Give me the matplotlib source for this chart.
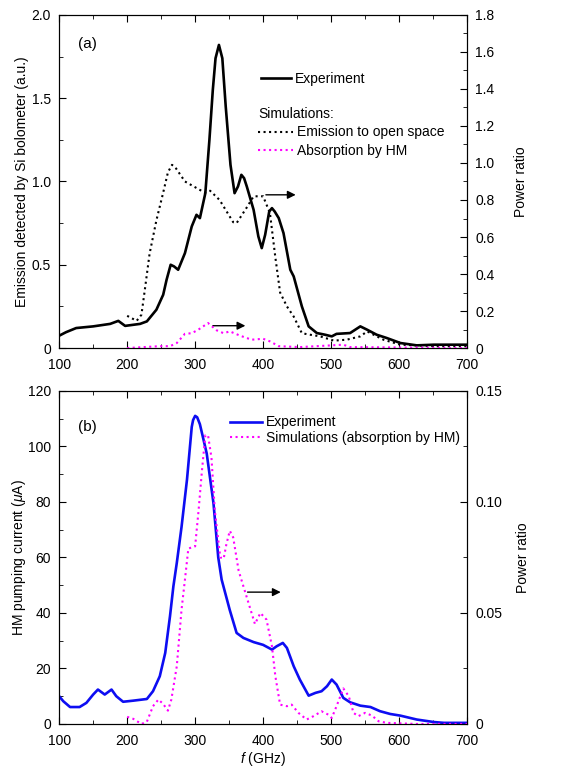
#!/usr/bin/env python3
import matplotlib
matplotlib.use("Agg")
import matplotlib.pyplot as plt
from matplotlib.ticker import MultipleLocator, FuncFormatter

plt.rcParams['font.family'] = ['Liberation Sans', 'DejaVu Sans']
plt.rcParams['font.size'] = 10
plt.rcParams['mathtext.fontset'] = 'custom'
plt.rcParams['mathtext.it'] = 'Liberation Sans:italic'
plt.rcParams['mathtext.rm'] = 'Liberation Sans'

### (a) experiment: bolometer signal (left axis)
a_exp_f = [100, 110, 125, 150, 175, 187, 197, 219, 229, 243, 253, 258, 264, 269,
           275, 285, 295, 302, 307, 315, 321, 326, 330, 335, 340, 345, 352, 358,
           363, 368, 372, 376, 386, 393, 398, 403, 409, 413, 417, 423, 430, 440,
           445, 457, 467, 479, 491, 501, 508, 528, 543, 553, 567, 582, 602, 626,
           651, 700]
a_exp_v = [0.074, 0.095, 0.12, 0.13, 0.145, 0.163, 0.133, 0.145, 0.16, 0.23, 0.32,
           0.41, 0.50, 0.49, 0.47, 0.57, 0.73, 0.80, 0.78, 0.93, 1.25, 1.55, 1.74,
           1.82, 1.74, 1.45, 1.10, 0.93, 0.97, 1.04, 1.02, 0.97, 0.83, 0.67, 0.60,
           0.68, 0.82, 0.84, 0.82, 0.78, 0.69, 0.47, 0.43, 0.25, 0.13, 0.09, 0.08,
           0.07, 0.085, 0.09, 0.13, 0.11, 0.08, 0.06, 0.03, 0.016, 0.02, 0.02]

### (a) simulation: emission to open space (right axis)
a_open_f = [200, 214, 221, 226, 233, 243, 253, 260, 266, 272, 285, 314, 322, 336,
            356, 361, 376, 386, 400, 410, 418, 425, 435, 445, 457, 469, 484, 504,
            523, 543, 553, 577, 602, 651, 700]
a_open_v = [0.174, 0.147, 0.18, 0.315, 0.51, 0.69, 0.84, 0.95, 0.99, 0.97, 0.90,
            0.84, 0.85, 0.80, 0.68, 0.675, 0.76, 0.82, 0.82, 0.73, 0.49, 0.30,
            0.225, 0.17, 0.08, 0.072, 0.063, 0.04, 0.045, 0.063, 0.09, 0.045,
            0.018, 0.01, 0.01]

### (a) simulation: absorption by HM (right axis)
a_hm_f = [200, 248, 263, 273, 285, 295, 305, 319, 332, 342, 351, 366, 383, 400,
          410, 423, 454, 518, 528, 700]
a_hm_v = [0.0, 0.01, 0.01, 0.027, 0.077, 0.08, 0.10, 0.135, 0.095, 0.08, 0.09,
          0.067, 0.045, 0.05, 0.036, 0.01, 0.005, 0.018, 0.005, 0.0]

### (b) experiment: HM pumping current (left axis)
b_exp_f = [100, 106, 116, 130, 140, 150, 157, 167, 177, 184, 194, 209, 229, 238,
           248, 256, 263, 268, 273, 280, 288, 295, 297, 300, 303, 307, 317,
           327, 334, 339, 351, 361, 371, 386, 400, 413, 420, 429, 435, 445, 454,
           467, 477, 486, 494, 501, 508, 518, 528, 543, 558, 572, 587, 602, 626,
           651, 666, 700]
b_exp_v = [10, 8.2, 6.1, 6.1, 7.6, 10.6, 12.4, 10.6, 12.4, 10, 8, 8.4, 9, 11.8,
           17.2, 25.6, 38.8, 49.6, 58, 71, 88, 107, 109.5, 111, 110.5, 108,
           97.5, 79.5, 60, 52, 41, 32.8, 31, 29.5, 28.5, 26.8, 28, 29.2, 27.4, 20.8,
           16, 10.2, 11.2, 11.8, 13.6, 16, 14.2, 9.4, 7.8, 6.6, 6.1, 4.6, 3.6, 3,
           1.6, 0.7, 0.4, 0.4]

### (b) simulation: absorption by HM (right axis)
b_hm_f = [200, 209, 221, 229, 238, 246, 253, 260, 265, 273, 280, 285, 290, 300,
          305, 310, 315, 319, 324, 329, 337, 342, 346, 351, 356, 364, 371, 381,
          388, 396, 405, 413, 418, 425, 435, 442, 452, 464, 474, 486, 496, 501,
          508, 518, 526, 533, 540, 550, 560, 570, 582, 626, 700]
b_hm_v = [0.0032, 0.0023, 0.0, 0.001, 0.008, 0.011, 0.009, 0.006, 0.011, 0.026,
          0.0515, 0.065, 0.079, 0.080, 0.096, 0.114, 0.130, 0.130, 0.120, 0.096,
          0.075, 0.0745, 0.081, 0.087, 0.084, 0.069, 0.062, 0.052, 0.045, 0.050,
          0.047, 0.035, 0.0215, 0.0087, 0.008, 0.0087, 0.005, 0.002, 0.0035,
          0.0057, 0.0042, 0.0027, 0.008, 0.016, 0.0125, 0.005, 0.0035, 0.005,
          0.0038, 0.0012, 0.0005, 0.0, 0.0]

myblack = (0.0, 0.0, 0.0)
myblue = (0.05, 0.05, 0.95)
mymagenta = (1.0, 0.0, 1.0)


def zero_fmt(fmt):
    return FuncFormatter(lambda v, p: "0" if abs(v) < 1e-9 else fmt.format(v))


def style_ax(ax, right=False):
    ax.tick_params(which="both", direction="in", top=not right, bottom=not right,
                   left=not right, right=right, labelsize=10)
    ax.tick_params(which="major", length=5)
    ax.tick_params(which="minor", length=3)
    ax.tick_params(axis="x", pad=7)
    ax.tick_params(axis="y", pad=6)
    for s in ax.spines.values():
        s.set_linewidth(0.8)


fig = plt.figure(figsize=(5.86, 7.71), dpi=100)

### Panel (a)
ax1 = fig.add_axes([0.101, 0.5486, 0.696, 0.432])
ax1r = ax1.twinx()
ln_exp, = ax1.plot(a_exp_f, a_exp_v, color=myblack, linewidth=1.9)
ln_open, = ax1r.plot(a_open_f, a_open_v, color=myblack, linestyle=':', linewidth=1.5)
ln_hm, = ax1r.plot(a_hm_f, a_hm_v, color=mymagenta, linestyle=':', linewidth=1.5)
ax1.set_xlim(100, 700)
ax1.set_ylim(0, 2.0)
ax1r.set_ylim(0, 1.8)
ax1.xaxis.set_major_locator(MultipleLocator(100))
ax1.xaxis.set_minor_locator(MultipleLocator(50))
ax1.yaxis.set_major_locator(MultipleLocator(0.5))
ax1.yaxis.set_minor_locator(MultipleLocator(0.25))
ax1.yaxis.set_major_formatter(zero_fmt("{:.1f}"))
ax1r.yaxis.set_major_locator(MultipleLocator(0.2))
ax1r.yaxis.set_minor_locator(MultipleLocator(0.1))
ax1r.yaxis.set_major_formatter(zero_fmt("{:.1f}"))
style_ax(ax1)
style_ax(ax1r, right=True)
ax1.set_ylabel("Emission detected by Si bolometer (a.u.)", fontsize=10, labelpad=2)
ax1r.set_ylabel("Power ratio", fontsize=10, labelpad=14)
ax1.text(0.045, 0.9, "(a)", transform=ax1.transAxes, fontsize=11)

leg1 = ax1.legend([ln_exp], ["Experiment"], loc="upper left",
                  bbox_to_anchor=(0.48, 0.845), frameon=False, fontsize=10,
                  handlelength=2.2, handletextpad=0.3, borderaxespad=0)
ax1.add_artist(leg1)
ax1.text(0.489, 0.703, "Simulations:", transform=ax1.transAxes, fontsize=10,
         va="center")
ax1.legend([ln_open, ln_hm], ["Emission to open space", "Absorption by HM"],
           loc="upper left", bbox_to_anchor=(0.475, 0.685), frameon=False,
           fontsize=10, handlelength=2.5, handletextpad=0.3, labelspacing=0.35,
           borderaxespad=0)

arrow = dict(arrowstyle="-|>", color="black", linewidth=1.0, mutation_scale=12)
ax1.annotate("", xy=(452, 0.92), xytext=(400, 0.92), arrowprops=arrow)
ax1.annotate("", xy=(378, 0.134), xytext=(322, 0.134), arrowprops=arrow)

### Panel (b)
ax2 = fig.add_axes([0.101, 0.061, 0.696, 0.432])
ax2r = ax2.twinx()
ln_bexp, = ax2.plot(b_exp_f, b_exp_v, color=myblue, linewidth=1.9)
ln_bhm, = ax2r.plot(b_hm_f, b_hm_v, color=mymagenta, linestyle=':', linewidth=1.5)
ax2.set_xlim(100, 700)
ax2.set_ylim(0, 120)
ax2r.set_ylim(0, 0.15)
ax2.xaxis.set_major_locator(MultipleLocator(100))
ax2.xaxis.set_minor_locator(MultipleLocator(50))
ax2.yaxis.set_major_locator(MultipleLocator(20))
ax2.yaxis.set_minor_locator(MultipleLocator(10))
ax2r.yaxis.set_major_locator(MultipleLocator(0.05))
ax2r.yaxis.set_minor_locator(MultipleLocator(0.025))
ax2r.yaxis.set_major_formatter(zero_fmt("{:.2f}"))
style_ax(ax2)
style_ax(ax2r, right=True)
ax2.set_ylabel(r"HM pumping current ($\mu$A)", fontsize=10, labelpad=0)
ax2r.set_ylabel("Power ratio", fontsize=10, labelpad=10)
ax2.set_xlabel(r"$f$ (GHz)", fontsize=10, labelpad=2)
ax2.text(0.045, 0.88, "(b)", transform=ax2.transAxes, fontsize=11)
ax2.legend([ln_bexp, ln_bhm], ["Experiment", "Simulations (absorption by HM)"],
           loc="upper left", bbox_to_anchor=(0.405, 0.943), frameon=False,
           fontsize=10, handlelength=2.3, handletextpad=0.3, labelspacing=0.1,
           borderaxespad=0)
ax2.annotate("", xy=(430, 47.5), xytext=(373, 47.5), arrowprops=arrow)

fig.savefig("out.png", dpi=100)
